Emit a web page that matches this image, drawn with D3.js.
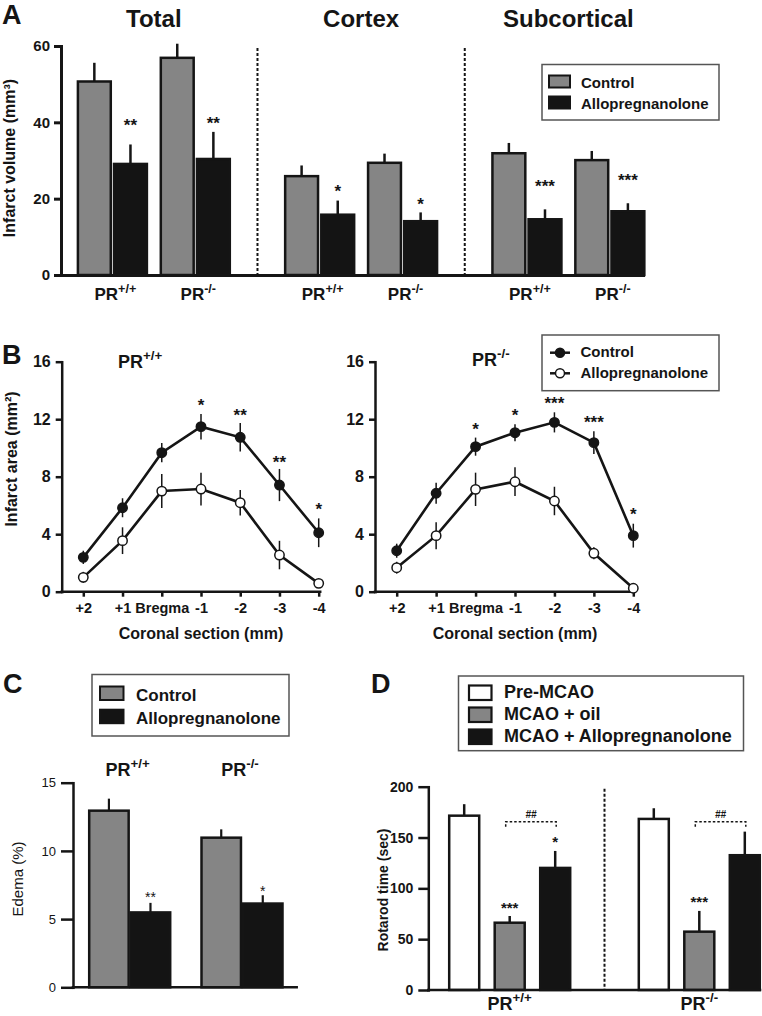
<!DOCTYPE html>
<html><head><meta charset="utf-8">
<script src="https://cdn.jsdelivr.net/npm/d3@7"></script>
<style>
html,body{margin:0;padding:0;background:#fff;}
svg{display:block;}
</style></head><body>
<svg id="chart" width="762" height="1016"></svg>
<script>
// ---------------- Panel A data ----------------
const aSections = ["Total", "Cortex", "Subcortical"];
const aGenotypes = ["+/+", "-/-"];
const aControl = [50.7, 56.9, 25.9, 29.4, 31.9, 30.1];
const aControlErr = [4.9, 3.7, 2.8, 2.4, 2.7, 2.4];
const aAllo = [29.1, 30.4, 15.8, 14.1, 14.6, 16.7];
const aAlloErr = [5.1, 7.1, 3.7, 2.3, 2.6, 2.1];
const aStars = ["**", "**", "*", "*", "***", "***"];
const aStarAt = [39.7, 40.3, 22.5, 19.1, 23.8, 25.3];
const aYTicks = [0, 20, 40, 60];
const aLegend = ["Control", "Allopregnanolone"];

// ---------------- Panel B data ----------------
const bSections = ["+2", "+1", "Bregma", "-1", "-2", "-3", "-4"];
const bWtControl = [2.39, 5.84, 9.67, 11.48, 10.74, 7.42, 4.10];
const bWtControlErr = [0.46, 0.66, 0.67, 0.89, 0.99, 1.12, 1.0];
const bWtAllo = [1.0, 3.55, 7.0, 7.14, 6.19, 2.55, 0.58];
const bWtAlloErr = [0.38, 0.93, 1.18, 1.14, 0.89, 0.99, 0];
const bWtStars = ["", "", "", "*", "**", "**", "*"];
const bWtStarAt = [null, null, null, 13.1, 12.4, 9.16, 5.87];
const bKoControl = [2.85, 6.85, 10.09, 11.06, 11.78, 10.37, 3.9];
const bKoControlErr = [0.49, 0.73, 0.63, 0.59, 0.70, 0.79, 0.83];
const bKoAllo = [1.67, 3.9, 7.12, 7.65, 6.31, 2.67, 0.24];
const bKoAlloErr = [0.41, 0.94, 1.16, 1.0, 0.99, 0.42, 0];
const bKoStars = ["", "", "*", "*", "***", "***", "*"];
const bKoStarAt = [null, null, 11.44, 12.41, 13.29, 11.94, 5.57];
const bYTicks = [0, 4, 8, 12, 16];

// ---------------- Panel C data ----------------
const cGenotypes = ["+/+", "-/-"];
const cControl = [12.95, 10.97];
const cControlErr = [0.88, 0.61];
const cAllo = [5.49, 6.14];
const cAlloErr = [0.70, 0.61];
const cStars = ["**", "*"];
const cStarAt = [6.75, 7.24];
const cYTicks = [0, 5, 10, 15];

// ---------------- Panel D data ----------------
const dGenotypes = ["+/+", "-/-"];
const dGroups = ["Pre-MCAO", "MCAO + oil", "MCAO + Allopregnanolone"];
const dPre = [171.5, 168.3];
const dPreErr = [11.3, 10.5];
const dOil = [66.2, 57.4];
const dOilErr = [6.6, 20.4];
const dAllo = [120.1, 132.6];
const dAlloErr = [16.7, 23.2];
const dOilStars = ["***", "***"];
const dOilStarAt = [82.6, 88.5];
const dAlloStars = ["*", ""];
const dAlloStarAt = [147.6, null];
const dBracketLabel = "##";
const dBracketAt = 165.5;
const dYTicks = [0, 50, 100, 150, 200];

// ---------------- helpers ----------------
const FONT = '"Liberation Sans", Arial, Helvetica, sans-serif';
const INK = "#151515";
const GRAY = "#858585";
const BLACK = "#141414";
const svg = d3.select("#chart").attr("font-family", FONT);

function txt(g, x, y, s, size, o = {}) {
  return g.append("text").attr("x", x).attr("y", y)
    .attr("font-size", size).attr("font-weight", o.weight || "bold")
    .attr("font-style", o.style || "normal")
    .attr("text-anchor", o.anchor || "middle").attr("fill", INK).text(s);
}
function pr(g, x, y, sup, size, anchor = "middle") {
  const t = g.append("text").attr("x", x).attr("y", y).attr("font-size", size)
    .attr("font-weight", "bold").attr("text-anchor", anchor).attr("fill", INK);
  t.append("tspan").text("PR");
  t.append("tspan").attr("dy", -size * 0.42).attr("font-size", size * 0.74).text(sup);
  return t;
}
function vlabel(g, x, y, s, size, weight) {
  g.append("text").attr("transform", `translate(${x},${y}) rotate(-90)`)
    .attr("font-size", size).attr("font-weight", weight).attr("text-anchor", "middle")
    .attr("fill", INK).text(s);
}
function styleAxis(sel, w, size, weight) {
  sel.attr("font-family", FONT).attr("font-size", size).attr("font-weight", weight);
  sel.select(".domain").attr("stroke", INK).attr("stroke-width", w).attr("stroke-linecap", "square");
  sel.selectAll(".tick line").attr("stroke", INK).attr("stroke-width", w);
  sel.selectAll(".tick text").attr("fill", INK);
}

// ================= Panel A =================
{
  const g = svg.append("g");
  const xA = d3.scaleLinear().domain([-0.62, 6.4]).range([61, 643]);
  const yA = d3.scaleLinear().domain([0, 60]).range([275, 46]);
  const inA = d3.scaleBand().domain(aLegend).range([-34.5, 34.5]).paddingInner(0.09);
  const pos = i => Math.floor(i / 2) * 2.5 + (i % 2);
  const bw = inA.bandwidth();

  const series = [
    { key: "Control", vals: aControl, errs: aControlErr, fill: GRAY },
    { key: "Allopregnanolone", vals: aAllo, errs: aAlloErr, fill: BLACK }
  ];
  series.forEach(s => {
    const cx = i => xA(pos(i)) + inA(s.key) + bw / 2;
    g.selectAll(null).data(s.vals).enter().append("line")
      .attr("x1", (d, i) => cx(i)).attr("x2", (d, i) => cx(i))
      .attr("y1", d => yA(d)).attr("y2", (d, i) => yA(d + s.errs[i]))
      .attr("stroke", INK).attr("stroke-width", 2.5);
    g.selectAll(null).data(s.vals).enter().append("rect")
      .attr("x", (d, i) => xA(pos(i)) + inA(s.key)).attr("y", d => yA(d))
      .attr("width", bw).attr("height", d => yA(0) - yA(d))
      .attr("fill", s.fill).attr("stroke", INK).attr("stroke-width", 2.5);
  });
  aStars.forEach((s, i) => {
    txt(g, xA(pos(i)) + inA("Allopregnanolone") + bw / 2, yA(aStarAt[i]) + 8, s, 17);
  });
  [1.75, 4.25].forEach(p => {
    g.append("line").attr("x1", xA(p)).attr("x2", xA(p)).attr("y1", yA(59.5)).attr("y2", yA(0))
      .attr("stroke", INK).attr("stroke-width", 2).attr("stroke-dasharray", "3,2");
  });
  const ya = g.append("g").attr("transform", `translate(${xA.range()[0]},0)`)
    .call(d3.axisLeft(yA).tickValues(aYTicks).tickSize(7).tickSizeOuter(0).tickPadding(4));
  styleAxis(ya, 3, 15, "bold");
  const xa = g.append("g").attr("transform", `translate(0,${yA(0)})`)
    .call(d3.axisBottom(xA).tickValues([]).tickSizeOuter(0));
  styleAxis(xa, 3, 15, "bold");
  aSections.forEach((s, k) => txt(g, xA(k * 2.5 + 0.5), 27, s, 24));
  for (let i = 0; i < 6; i++) pr(g, xA(pos(i)) + 3, 300, aGenotypes[i % 2], 17);
  vlabel(g, 15, 158, "Infarct volume (mm³)", 16, "bold");
  txt(g, 2, 24, "A", 27, { anchor: "start" });
  const lg = g.append("g");
  lg.append("rect").attr("x", 542).attr("y", 64.5).attr("width", 177).attr("height", 55.5)
    .attr("fill", "#fff").attr("stroke", "#555").attr("stroke-width", 1.5);
  series.forEach((s, k) => {
    lg.append("rect").attr("x", 549).attr("y", 75.5 + k * 21).attr("width", 21).attr("height", 12)
      .attr("fill", s.fill).attr("stroke", INK).attr("stroke-width", 2);
    txt(lg, 581, 88 + k * 21, aLegend[k], 15, { anchor: "start" });
  });
}

// ================= Panel B =================
const yB = d3.scaleLinear().domain([0, 16]).range([591.7, 361.7]);
function drawB(axisX, x0, x1, ctrl, ctrlErr, allo, alloErr, stars, starAt) {
  const g = svg.append("g");
  const xB = d3.scalePoint().domain(bSections).range([x0, x1]);
  const ya = g.append("g").attr("transform", `translate(${axisX},0)`)
    .call(d3.axisLeft(yB).tickValues(bYTicks).tickSize(6).tickSizeOuter(0).tickPadding(5));
  styleAxis(ya, 2.5, 16, "bold");
  const xa = g.append("g").attr("transform", `translate(0,${yB(0)})`)
    .call(d3.axisBottom(xB).tickSize(5).tickPadding(6));
  xa.select(".domain").remove();
  styleAxis(xa, 2.5, 14.5, "bold");
  g.append("line").attr("x1", axisX).attr("x2", xB("-4") + 1.5).attr("y1", yB(0)).attr("y2", yB(0))
    .attr("stroke", INK).attr("stroke-width", 2.5).attr("stroke-linecap", "square");

  const line = d3.line().x((d, i) => xB(bSections[i])).y(d => yB(d));
  [[allo, alloErr, "#fff"], [ctrl, ctrlErr, INK]].forEach(([v, e, fill]) => {
    g.append("path").datum(v).attr("d", line).attr("fill", "none")
      .attr("stroke", INK).attr("stroke-width", 2.6);
    g.selectAll(null).data(v).enter().append("line")
      .attr("x1", (d, i) => xB(bSections[i])).attr("x2", (d, i) => xB(bSections[i]))
      .attr("y1", (d, i) => yB(d - e[i])).attr("y2", (d, i) => yB(d + e[i]))
      .attr("stroke", INK).attr("stroke-width", 1.5);
    g.selectAll(null).data(v).enter().append("circle")
      .attr("cx", (d, i) => xB(bSections[i])).attr("cy", d => yB(d)).attr("r", 4.7)
      .attr("fill", fill).attr("stroke", INK).attr("stroke-width", 1.5);
  });
  stars.forEach((s, i) => {
    if (s) txt(g, xB(bSections[i]), yB(starAt[i]) + 8, s, 17);
  });
  txt(g, (x0 + x1) / 2, 639, "Coronal section (mm)", 16);
  return g;
}
{
  const g1 = drawB(61.7, 83.3, 318.7, bWtControl, bWtControlErr, bWtAllo, bWtAlloErr, bWtStars, bWtStarAt);
  pr(g1, 118, 368, "+/+", 18, "start");
  vlabel(g1, 17, 459, "Infarct area (mm²)", 16, "bold");
  txt(g1, 2, 364, "B", 27, { anchor: "start" });
  const g2 = drawB(375, 396.7, 633.3, bKoControl, bKoControlErr, bKoAllo, bKoAlloErr, bKoStars, bKoStarAt);
  pr(g2, 472, 366, "-/-", 18, "start");
  const lg = svg.append("g");
  lg.append("rect").attr("x", 542).attr("y", 335).attr("width", 177).attr("height", 55.7)
    .attr("fill", "#fff").attr("stroke", "#555").attr("stroke-width", 1.5);
  [["Control", INK], ["Allopregnanolone", "#fff"]].forEach(([s, fill], k) => {
    const cy = 352.7 + k * 20.6;
    lg.append("line").attr("x1", 550).attr("x2", 570).attr("y1", cy).attr("y2", cy)
      .attr("stroke", INK).attr("stroke-width", 2.5);
    lg.append("circle").attr("cx", 560).attr("cy", cy).attr("r", 4.5)
      .attr("fill", fill).attr("stroke", INK).attr("stroke-width", 1.5);
    txt(lg, 580.5, 357 + k * 20.6, s, 15, { anchor: "start" });
  });
}

// ================= Panel C =================
{
  const g = svg.append("g");
  const yC = d3.scaleLinear().domain([0, 15]).range([987.3, 782.7]);
  const xC = d3.scalePoint().domain(cGenotypes).range([129.7, 242]);
  const inC = d3.scaleBand().domain(aLegend).range([-40.5, 40.5]).paddingInner(0.05);
  const bw = inC.bandwidth();
  const series = [
    { key: "Control", vals: cControl, errs: cControlErr, fill: GRAY },
    { key: "Allopregnanolone", vals: cAllo, errs: cAlloErr, fill: BLACK }
  ];
  series.forEach(s => {
    const cx = i => xC(cGenotypes[i]) + inC(s.key) + bw / 2;
    g.selectAll(null).data(s.vals).enter().append("line")
      .attr("x1", (d, i) => cx(i)).attr("x2", (d, i) => cx(i))
      .attr("y1", d => yC(d)).attr("y2", (d, i) => yC(d + s.errs[i]))
      .attr("stroke", INK).attr("stroke-width", 2.2);
    g.selectAll(null).data(s.vals).enter().append("rect")
      .attr("x", (d, i) => xC(cGenotypes[i]) + inC(s.key)).attr("y", d => yC(d))
      .attr("width", bw).attr("height", d => yC(0) - yC(d))
      .attr("fill", s.fill).attr("stroke", INK).attr("stroke-width", 2.5);
  });
  cStars.forEach((s, i) => txt(g, xC(cGenotypes[i]) + inC("Allopregnanolone") + bw / 2, yC(cStarAt[i]) + 7, s, 14, { weight: "normal" }));
  const ya = g.append("g").attr("transform", "translate(73,0)")
    .call(d3.axisLeft(yC).tickValues(cYTicks).tickSize(12).tickSizeOuter(0).tickPadding(5));
  styleAxis(ya, 2.5, 13, "normal");
  g.append("line").attr("x1", 73).attr("x2", 296.7).attr("y1", yC(0)).attr("y2", yC(0))
    .attr("stroke", INK).attr("stroke-width", 2.5).attr("stroke-linecap", "square");
  cGenotypes.forEach(gt => pr(g, xC(gt) - 2, 775.7, gt, 18));
  vlabel(g, 23, 879, "Edema (%)", 15, "normal");
  txt(g, 3, 693, "C", 27, { anchor: "start" });
  const lg = g.append("g");
  lg.append("rect").attr("x", 92).attr("y", 674.5).attr("width", 197).attr("height", 61.5)
    .attr("fill", "#fff").attr("stroke", "#555").attr("stroke-width", 1.5);
  series.forEach((s, k) => {
    lg.append("rect").attr("x", 100).attr("y", 686.5 + k * 23.2).attr("width", 23.5).attr("height", 13.5)
      .attr("fill", s.fill).attr("stroke", INK).attr("stroke-width", 2);
    txt(lg, 136, 700.7 + k * 23.3, aLegend[k], 17, { anchor: "start" });
  });
}

// ================= Panel D =================
{
  const g = svg.append("g");
  const yD = d3.scaleLinear().domain([0, 200]).range([990, 786.7]);
  const xD = d3.scalePoint().domain(dGenotypes).range([509.7, 699.3]);
  const inD = d3.scalePoint().domain(dGroups).range([-45.5, 45.5]);
  const bw = 30;
  const series = [
    { key: dGroups[0], vals: dPre, errs: dPreErr, fill: "#fff" },
    { key: dGroups[1], vals: dOil, errs: dOilErr, fill: GRAY },
    { key: dGroups[2], vals: dAllo, errs: dAlloErr, fill: BLACK }
  ];
  series.forEach(s => {
    const cx = i => xD(dGenotypes[i]) + inD(s.key);
    g.selectAll(null).data(s.vals).enter().append("line")
      .attr("x1", (d, i) => cx(i)).attr("x2", (d, i) => cx(i))
      .attr("y1", d => yD(d)).attr("y2", (d, i) => yD(d + s.errs[i]))
      .attr("stroke", INK).attr("stroke-width", 2.5);
    g.selectAll(null).data(s.vals).enter().append("rect")
      .attr("x", (d, i) => cx(i) - bw / 2).attr("y", d => yD(d))
      .attr("width", bw).attr("height", d => yD(0) - yD(d))
      .attr("fill", s.fill).attr("stroke", INK).attr("stroke-width", 2.5);
  });
  dGenotypes.forEach((gt, i) => {
    if (dOilStars[i]) txt(g, xD(gt) + inD(dGroups[1]), yD(dOilStarAt[i]) + 7, dOilStars[i], 15);
    if (dAlloStars[i]) txt(g, xD(gt) + inD(dGroups[2]), yD(dAlloStarAt[i]) + 7, dAlloStars[i], 15);
    const xa = xD(gt) + inD(dGroups[1]) - 4, xb = xD(gt) + inD(dGroups[2]) + 1, yb = yD(dBracketAt);
    g.append("path").attr("d", `M${xa},${yb + 5}V${yb}H${xb}V${yb + 5}`)
      .attr("fill", "none").attr("stroke", INK).attr("stroke-width", 1.5).attr("stroke-dasharray", "2.5,2");
    txt(g, (xa + xb) / 2, yb - 3.5, dBracketLabel, 10, { style: "italic" });
    pr(g, xD(gt), 1010, gt, 18);
  });
  const mid = (xD(dGenotypes[0]) + xD(dGenotypes[1])) / 2;
  g.append("line").attr("x1", mid).attr("x2", mid).attr("y1", yD(198)).attr("y2", yD(0))
    .attr("stroke", INK).attr("stroke-width", 2).attr("stroke-dasharray", "3,2");
  const ya = g.append("g").attr("transform", "translate(428.3,0)")
    .call(d3.axisLeft(yD).tickValues(dYTicks).tickSize(10).tickSizeOuter(0).tickPadding(5));
  styleAxis(ya, 2.5, 14, "bold");
  g.append("line").attr("x1", 428.3).attr("x2", 760).attr("y1", yD(0)).attr("y2", yD(0))
    .attr("stroke", INK).attr("stroke-width", 2.5).attr("stroke-linecap", "square");
  vlabel(g, 388, 890, "Rotarod time (sec)", 14, "bold");
  txt(g, 371, 693, "D", 27, { anchor: "start" });
  const lg = g.append("g");
  lg.append("rect").attr("x", 458.5).attr("y", 676).attr("width", 285).attr("height", 74.7)
    .attr("fill", "#fff").attr("stroke", "#555").attr("stroke-width", 1.5);
  series.forEach((s, k) => {
    lg.append("rect").attr("x", 469).attr("y", 685.5 + k * 22).attr("width", 22.5).attr("height", 14.5)
      .attr("fill", s.fill).attr("stroke", INK).attr("stroke-width", 2.2);
    txt(lg, 504, 698.3 + k * 21.7, s.key, 18, { anchor: "start" });
  });
}
</script>
</body></html>
